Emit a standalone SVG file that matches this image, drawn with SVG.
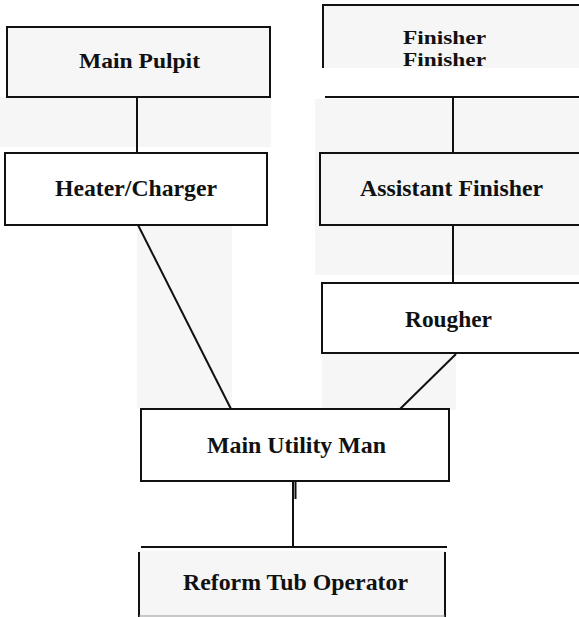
<svg xmlns="http://www.w3.org/2000/svg" width="579" height="617" viewBox="0 0 579 617">
<style>
.box{stroke:#111;stroke-width:2;}
.g{fill:#f6f6f6;}
.w{fill:#fff;}
.t{font-family:"Liberation Serif","Times New Roman",serif;font-weight:bold;fill:#111;}
.c{stroke:#111;stroke-width:2;fill:none;}
</style>
<rect x="0" y="0" width="579" height="617" fill="#fff"/>
<!-- scan background patches -->
<rect class="g" x="0" y="97" width="271" height="50"/>
<rect class="g" x="315" y="99" width="264" height="176"/>
<rect class="g" x="137" y="225" width="95" height="183"/>
<rect class="g" x="322" y="353" width="134" height="57"/>
<g id="connectors">
<line class="c" x1="137" y1="97" x2="137" y2="153"/>
<line class="c" x1="138" y1="225" x2="231" y2="409"/>
<line class="c" x1="453" y1="97" x2="453" y2="153"/>
<line class="c" x1="453" y1="225" x2="453" y2="283"/>
<line class="c" x1="456" y1="354" x2="400" y2="409"/>
<line class="c" x1="293" y1="481" x2="293" y2="547"/>
<line class="c" x1="295.5" y1="481" x2="295.5" y2="499"/>
</g>
<g id="main-pulpit">
<rect class="box g" x="7" y="27" width="263" height="70"/>
<text class="t" x="79" y="68" font-size="22" textLength="121" lengthAdjust="spacingAndGlyphs">Main Pulpit</text>
</g>
<g id="finisher">
<rect class="g" x="323" y="5" width="256" height="63"/>
<path class="c" d="M323 68 V5 H579"/>
<line class="c" x1="325" y1="97" x2="579" y2="97"/>
<text class="t" x="403" y="44" font-size="19" textLength="83" lengthAdjust="spacingAndGlyphs">Finisher</text>
<text class="t" x="403" y="66" font-size="19" textLength="83" lengthAdjust="spacingAndGlyphs" style="font-weight:600">Finisher</text>
</g>
<g id="heater-charger">
<rect class="box w" x="5" y="153" width="262" height="72"/>
<text class="t" x="55" y="196" font-size="24" textLength="162" lengthAdjust="spacingAndGlyphs">Heater/Charger</text>
</g>
<g id="assistant-finisher">
<path class="box g" d="M581 153 H320 V225 H581"/>
<text class="t" x="360" y="196" font-size="23" textLength="183" lengthAdjust="spacingAndGlyphs">Assistant Finisher</text>
</g>
<g id="rougher">
<path class="box w" d="M581 283 H322 V353 H581"/>
<text class="t" x="405" y="327" font-size="24" textLength="87" lengthAdjust="spacingAndGlyphs">Rougher</text>
</g>
<g id="main-utility-man">
<rect class="box w" x="141" y="409" width="308" height="72"/>
<text class="t" x="207" y="453" font-size="24" textLength="179" lengthAdjust="spacingAndGlyphs">Main Utility Man</text>
</g>
<g id="reform-tub-operator">
<rect class="g" x="139" y="551" width="306" height="66"/>
<line class="c" x1="141" y1="547" x2="447" y2="547"/>
<path class="c" d="M139 552 V617 M445 552 V617"/>
<line x1="139" y1="616" x2="445" y2="616" stroke="#999" stroke-width="1"/>
<text class="t" x="183" y="590" font-size="23" textLength="225" lengthAdjust="spacingAndGlyphs">Reform Tub Operator</text>
</g>
</svg>
